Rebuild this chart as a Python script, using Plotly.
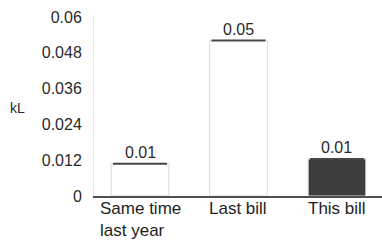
import plotly.graph_objects as go

categories = ["Same time<br>last year", "Last bill", "This bill"]
values = [0.0108, 0.0521, 0.0124]
value_labels = ["0.01", "0.05", "0.01"]
bar_colors = ["#ffffff", "#ffffff", "#3d3d3d"]
tick_vals = [0, 0.012, 0.024, 0.036, 0.048, 0.06]
tick_text = ["0", "0.012", "0.024", "0.036", "0.048", "0.06"]
y_unit = "kL"

FONT = "Liberation Sans"
xs = list(range(len(categories)))

fig = go.Figure()
fig.add_trace(go.Bar(
    x=xs, y=values, width=0.585,
    marker=dict(color=bar_colors, line=dict(color="#dadada", width=1)),
    error_y=dict(type="data", array=[0] * len(values), visible=True,
                 color="#484848", thickness=2, width=27),
    hoverinfo="skip",
))

for x, v, t in zip(xs, values, value_labels):
    fig.add_annotation(x=x, y=v, text=t, showarrow=False, yanchor="bottom",
                       yshift=1, font=dict(family=FONT, size=16, color="#2a2a2a"))

for x, c in zip(xs, categories):
    fig.add_annotation(x=x, y=0, yref="paper", text=c, showarrow=False,
                       yanchor="top", yshift=-1, align="left",
                       font=dict(family=FONT, size=17, color="#1e1e1e"))

fig.add_annotation(x=-0.3, y=0.49, xref="paper", yref="paper", text=y_unit,
                   showarrow=False, font=dict(family=FONT, size=14, color="#2a2a2a"))

fig.update_layout(
    width=382, height=247,
    margin=dict(l=94, r=0, t=17, b=51),
    paper_bgcolor="white", plot_bgcolor="white",
    showlegend=False,
    font=dict(family=FONT, size=16, color="#2a2a2a"),
    xaxis=dict(range=[-0.467, 2.457], showticklabels=False, showgrid=False,
               zeroline=False, showline=True, linecolor="#505050", linewidth=2),
    yaxis=dict(range=[0, 0.06], tickvals=tick_vals, ticktext=tick_text,
               showgrid=False, zeroline=False, showline=True,
               linecolor="#e6e6e6", linewidth=1, ticks="",
               ticklabelstandoff=8, tickfont=dict(size=16)),
)

fig.write_html("out.html", config={"displayModeBar": False},
               post_script="document.body.style.margin='0';")
